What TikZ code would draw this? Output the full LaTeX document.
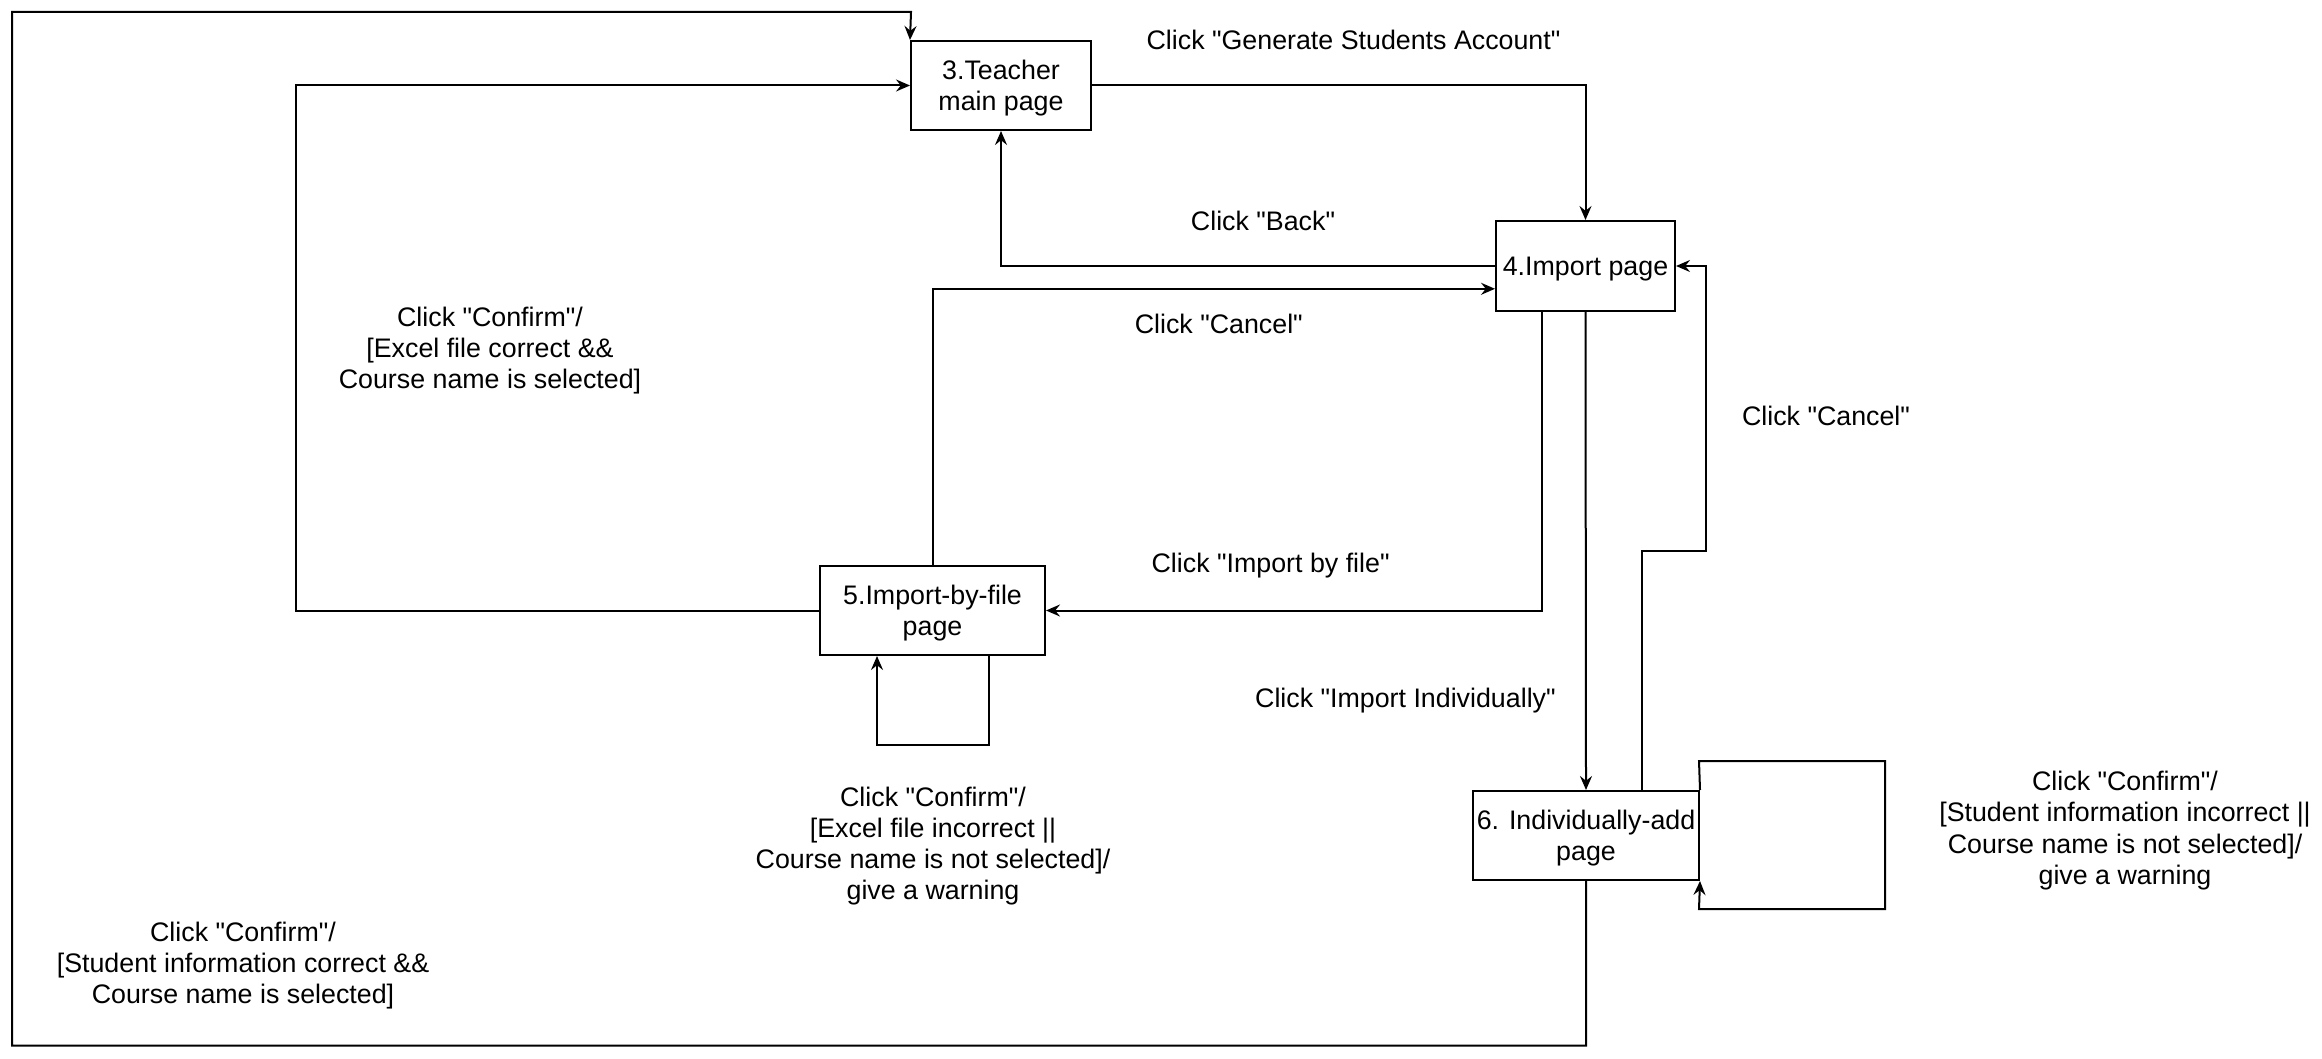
\documentclass[tikz,border=0pt]{standalone}
\usepackage{fontspec}
\setmainfont{Liberation Sans}
\usetikzlibrary{arrows.meta}
\newcommand{\dq}{\textquotedbl}
\begin{document}
\begin{tikzpicture}[x=0.5pt,y=-0.5pt,
  txt/.style={font=\fontsize{13.4}{15.6}\selectfont, text=black, align=center, inner sep=0pt},
  mtxt/.style={txt, text depth=0pt},
  pagebox/.style={txt, draw=black, line width=1pt, fill=white, text depth=0pt},
  conn/.style={draw=black, line width=1pt},
  arr/.style={conn, -{Stealth[length=7pt,width=6pt,inset=2.4pt]}}]
\useasboundingbox (0,0) rectangle (2322,1059);

% pages
\node[pagebox, minimum width=90pt, minimum height=44.5pt] (T) at (1001,85.5) {3.Teacher\\main page};
\node[pagebox, minimum width=89.5pt, minimum height=45pt] (I) at (1585.5,266) {4.Import page};
\node[pagebox, minimum width=112.5pt, minimum height=44.5pt] (F) at (932.5,610.5) {5.Import-by-file\\page};
\node[pagebox, minimum width=113pt, minimum height=44.5pt] (A) at (1586,835.5) {6. Individually-add\\page};

% connectors
\draw[arr] (A.south) -- (1586,1045.5) -- (12,1045.5) -- (12,12) -- (911,12) -- (T.north west);
\draw[arr] (F.west) -- (296,610.5) |- (T.west);
\draw[arr] (T.east) -| (I.north);
\draw[arr] (I.west) -| (T.south);
\draw[arr] (F.north) |- ([yshift=-11.4pt]I.west);
\draw[arr] ([xshift=-22pt]I.south) |- (F.east);
\draw[arr] (I.south) -- (A.north);
\draw[arr] ([xshift=28pt]A.north) -- (1642,551) -- (1706,551) |- (I.east);
\draw[arr] ([xshift=28.25pt]F.south) -- (989,745) -- (877,745) -- ([xshift=-27.75pt]F.south);
\draw[arr] (A.north east) -- (1699,761) -- (1885,761) -- (1885,909) -- (1699,909) -- (A.south east);

% labels
\node[txt] (l1) at (1353.5,40) {Click \dq Generate Students Account\dq};
\node[txt] (l2) at (1263,220.6) {Click \dq Back\dq};
\node[txt] (l3) at (1218.8,324.3) {Click \dq Cancel\dq};
\node[mtxt] (l4) at (490,348) {Click \dq Confirm\dq/\\ {[}Excel file correct \&\&\\Course name is selected{]}};
\node[txt] (l5) at (1826,416) {Click \dq Cancel\dq};
\node[txt] (l6) at (1270.6,565.7) {Click \dq Import by file\dq};
\node[txt] (l7) at (1405.4,700.5) {Click \dq Import Individually\dq};
\node[mtxt] (l8) at (933,843.4) {Click \dq Confirm\dq/\\ {[}Excel file incorrect ||\\Course name is not selected{]}/\\give a warning};
\node[mtxt] (l9) at (243,962.6) {Click \dq Confirm\dq/\\ {[}Student information correct \&\&\\Course name is selected{]}};
\node[mtxt] (l10) at (2125,827.8) {Click \dq Confirm\dq/\\ {[}Student information incorrect ||\\Course name is not selected{]}/\\give a warning};
\end{tikzpicture}
\end{document}
